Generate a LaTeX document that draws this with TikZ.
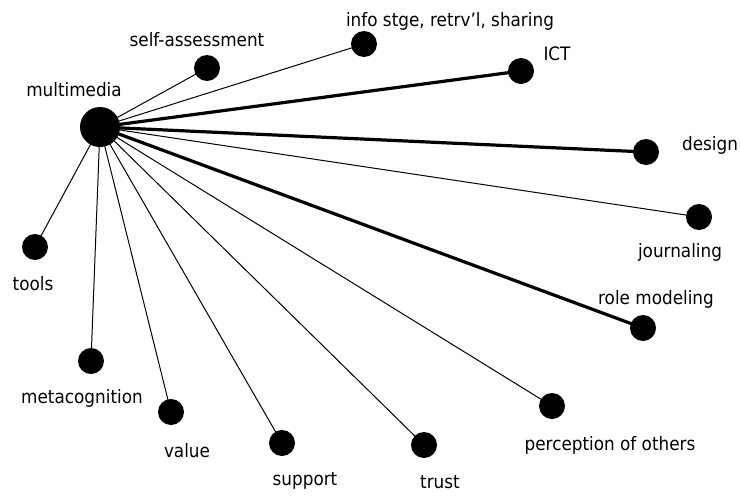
\documentclass[tikz,border=0pt]{standalone}
\usepackage{fontspec}
\setmainfont{DejaVu Sans}[FakeStretch=0.91]
\begin{document}
\begin{tikzpicture}[x=1pt,y=-1pt,
  hubdot/.style={circle,fill=black,minimum size=40pt,inner sep=0pt},
  dot/.style={circle,fill=black,minimum size=26pt,inner sep=0pt},
  lbl/.style={anchor=base,inner sep=0pt,font=\fontsize{18.5}{20}\selectfont},
  thinedge/.style={line width=1pt},
  thickedge/.style={line width=3.2pt}]
\useasboundingbox (0,0) rectangle (740,496);
\fill[white] (0,0) rectangle (740,496);
% nodes
\node[hubdot] (hub) at (100,127) {};
\node[dot] (sa) at (207,68) {};
\node[dot] (info) at (364,44) {};
\node[dot] (ict) at (521,71) {};
\node[dot] (design) at (646,152) {};
\node[dot] (journ) at (699,217) {};
\node[dot] (role) at (643,328) {};
\node[dot] (perc) at (552,406) {};
\node[dot] (trust) at (424,445) {};
\node[dot] (support) at (282,443) {};
\node[dot] (value) at (171,412) {};
\node[dot] (meta) at (91,361) {};
\node[dot] (tools) at (35,247) {};
% edges
\begin{scope}[on background layer/.style={}]
\draw[thinedge] (hub.center) -- (sa.center);
\draw[thinedge] (hub.center) -- (info.center);
\draw[thickedge] (hub.center) -- (ict.center);
\draw[thickedge] (hub.center) -- (design.center);
\draw[thinedge] (hub.center) -- (journ.center);
\draw[thickedge] (hub.center) -- (role.center);
\draw[thinedge] (hub.center) -- (perc.center);
\draw[thinedge] (hub.center) -- (trust.center);
\draw[thinedge] (hub.center) -- (support.center);
\draw[thinedge] (hub.center) -- (value.center);
\draw[thinedge] (hub.center) -- (meta.center);
\draw[thinedge] (hub.center) -- (tools.center);
\end{scope}
% labels
\node[lbl] (lhub) at (74,96) {multimedia};
\node[lbl] (lsa) at (197,46) {self-assessment};
\node[lbl] (linfo) at (450,26) {info stge, retrv'l, sharing};
\node[lbl] (lict) at (557,60) {ICT};
\node[lbl] (ldesign) at (710,150) {design};
\node[lbl] (ljourn) at (680,257) {journaling};
\node[lbl] (lrole) at (656,304) {role modeling};
\node[lbl] (lperc) at (610,450) {perception of others};
\node[lbl] (ltrust) at (440,488) {trust};
\node[lbl] (lsupport) at (305,485) {support};
\node[lbl] (lvalue) at (187,457) {value};
\node[lbl] (lmeta) at (82,403) {metacognition};
\node[lbl] (ltools) at (33,290) {tools};
\end{tikzpicture}
\end{document}
